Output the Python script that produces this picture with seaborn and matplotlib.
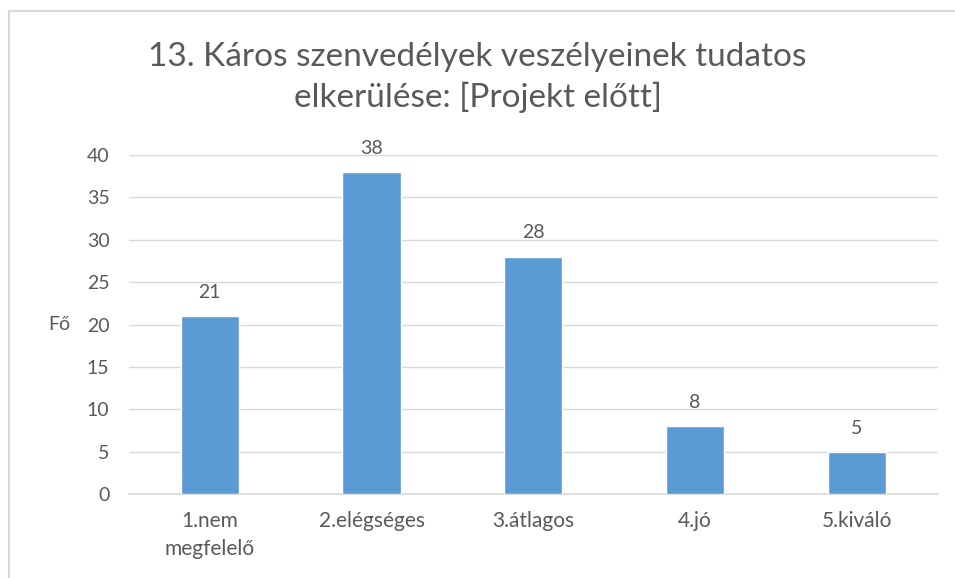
import matplotlib
matplotlib.use("Agg")
import matplotlib.pyplot as plt
import seaborn as sns
import pandas as pd
from matplotlib.lines import Line2D

categories = ["1.nem\nmegfelelő", "2.elégséges", "3.átlagos", "4.jó", "5.kiváló"]
values = [21, 38, 28, 8, 5]
yticks = [0, 5, 10, 15, 20, 25, 30, 35, 40]

title = "13. Káros szenvedélyek veszélyeinek tudatos\nelkerülése: [Projekt előtt]"
ylabel = "Fő"

sns.set_theme(style="white")
plt.rcParams["font.family"] = ["Lato", "DejaVu Sans"]

text_color = "#595959"
bar_color = "#5B9BD5"
grid_color = "#D9D9D9"

df = pd.DataFrame({"cat": categories, "val": values})

fig = plt.figure(figsize=(9.55, 5.78), dpi=100)
# chart frame (left and top edges visible in the crop)
bx, by = 9 / 955, 1 - 11 / 578
fig.add_artist(Line2D([bx, bx], [0, by], transform=fig.transFigure,
                      color="#D9D9D9", linewidth=1.5))
fig.add_artist(Line2D([bx, 1], [by, by], transform=fig.transFigure,
                      color="#D9D9D9", linewidth=1.5))

ax = fig.add_axes([0.135, 0.145, 0.847, 0.587])

sns.barplot(data=df, x="cat", y="val", color=bar_color, width=0.36,
            saturation=1, ax=ax, zorder=3)

ax.set_ylim(0, 40)
ax.set_yticks(yticks)
ax.yaxis.grid(True, color=grid_color, linewidth=1)
ax.set_axisbelow(True)
for s in ["top", "right", "left"]:
    ax.spines[s].set_visible(False)
ax.spines["bottom"].set_color(grid_color)

ax.tick_params(axis="both", length=0, labelsize=14, colors=text_color)
ax.tick_params(axis="x", pad=12, labelsize=15)
ax.tick_params(axis="y", pad=14)
for lbl in ax.get_xticklabels():
    lbl.set_linespacing(1.5)
ax.set_xlabel("")
ax.set_ylabel(ylabel, rotation=0, fontsize=14, color=text_color, labelpad=20, va="center")

for c in ax.containers:
    ax.bar_label(c, padding=11, fontsize=14, color=text_color)

fig.text(0.5, 0.866, title, ha="center", va="center", fontsize=24,
         color=text_color, linespacing=1.35)

fig.savefig("out.png", dpi=100)
